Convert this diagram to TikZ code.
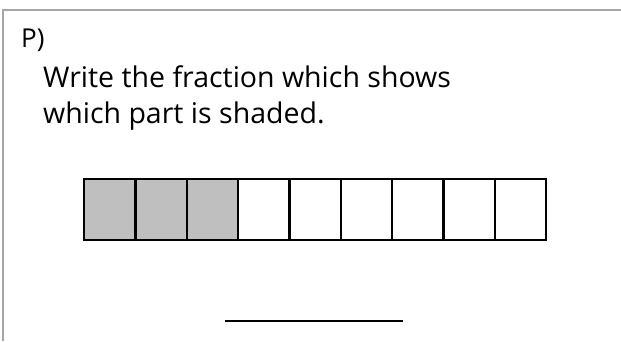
\documentclass[tikz,border=0pt]{standalone}
\usepackage{fontspec}
\setmainfont{Open Sans}
\begin{document}
\begin{tikzpicture}[x=1pt,y=-1pt,
  frame/.style={draw=black!35,line width=2pt},
  cell/.style={draw=black,line width=2.4pt},
  txt/.style={anchor=base west,inner sep=0pt,font=\fontsize{28.5}{36}\selectfont}]
\useasboundingbox (0,0) rectangle (621,341);
\coordinate (tl) at (3,10);
\coordinate (tr) at (621,10);
\coordinate (bl) at (3,341);
\draw[frame] (tr) -- (tl) -- (bl);
\node[anchor=base west,inner sep=0pt,font=\fontsize{26}{28}\selectfont] (lbl) at (21,47) {P)};
\node[txt] (l1) at (43,87) {Write the fraction which shows};
\node[txt] (l2) at (43,123) {which part is shaded.};
\foreach \i in {0,1,2}{
  \fill[black!25] (83+\i*51.33,178) rectangle (83+\i*51.33+51.33,239);
}
\foreach \i in {0,...,8}{
  \node[cell,minimum width=51.33pt,minimum height=61pt,inner sep=0pt,anchor=north west] (c\i) at (83+\i*51.33,178) {};
}
\coordinate (a) at (225,321);
\coordinate (b) at (403,321);
\draw[line width=2.2pt] (a) -- (b);
\end{tikzpicture}
\end{document}
